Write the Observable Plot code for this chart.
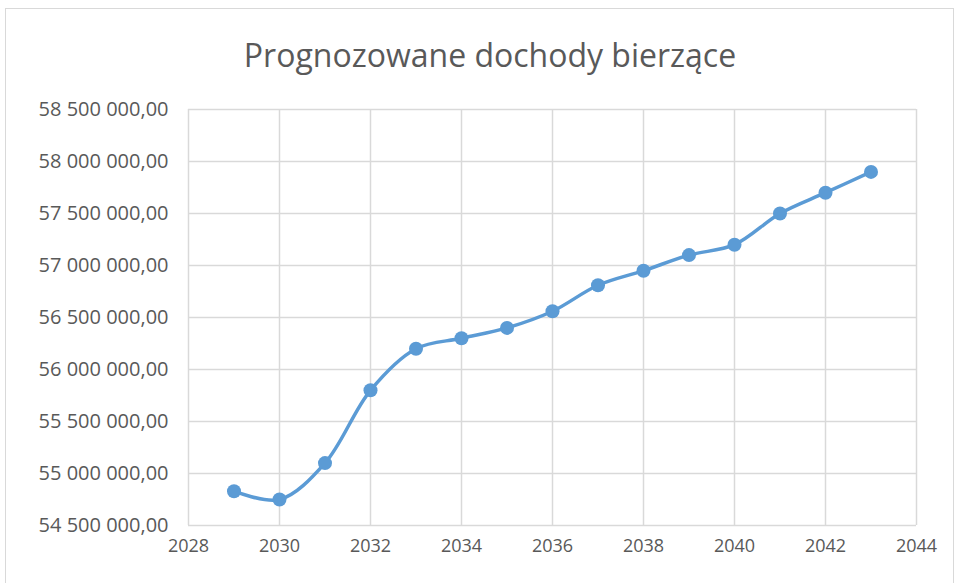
<!DOCTYPE html>
<html>
<head>
<meta charset="utf-8">
<script src="https://cdn.jsdelivr.net/npm/d3@7"></script>
<script src="https://cdn.jsdelivr.net/npm/@observablehq/plot@0.6"></script>
<style>
  html, body { margin: 0; padding: 0; background: #fff; }
  #wrap { position: relative; width: 960px; height: 583px; overflow: hidden; }
  #frame { position: absolute; left: 5px; top: 8px; width: 949px; height: 600px; border: 1.5px solid #d9d9d9; box-sizing: border-box; pointer-events: none; }
  #title { position: absolute; left: 0; width: 980px; top: 33px; text-align: center; font-family: "Open Sans", sans-serif; font-size: 32px; color: #595959; }
</style>
</head>
<body>
<div id="wrap">
  <div id="frame"></div>
  <div id="title">Prognozowane dochody bierzące</div>
</div>
<script>
const years = [2029, 2030, 2031, 2032, 2033, 2034, 2035, 2036, 2037, 2038, 2039, 2040, 2041, 2042, 2043];
const values = [54830000, 54750000, 55100000, 55800000, 56200000, 56300000, 56400000, 56560000, 56810000, 56950000, 57100000, 57200000, 57500000, 57700000, 57900000];
const xTicks = [2028, 2030, 2032, 2034, 2036, 2038, 2040, 2042, 2044];
const yTicks = [54500000, 55000000, 55500000, 56000000, 56500000, 57000000, 57500000, 58000000, 58500000];

const data = years.map((y, i) => ({year: y, value: values[i]}));

const fmtY = v => {
  const s = Math.round(v).toString().replace(/\B(?=(\d{3})+(?!\d))/g, " ");
  return s + ",00";
};

const chart = Plot.plot({
  width: 960,
  height: 583,
  marginLeft: 188,
  marginRight: 44,
  marginTop: 109,
  marginBottom: 58,
  style: { fontFamily: "'Open Sans', sans-serif", fontSize: "18px", color: "#595959", background: "transparent" },
  x: { domain: [2028, 2044], label: null },
  y: { domain: [54500000, 58500000], label: null },
  marks: [
    Plot.gridX(xTicks, { stroke: "#d9d9d9", strokeOpacity: 1, strokeWidth: 1.5 }),
    Plot.gridY(yTicks, { stroke: "#d9d9d9", strokeOpacity: 1, strokeWidth: 1.5 }),
    Plot.axisX({ ticks: xTicks, tickFormat: d => String(d), tickSize: 0, tickPadding: 14, label: null, fill: "#595959", fontSize: 18 }),
    Plot.axisY({ ticks: yTicks, tickFormat: fmtY, tickSize: 0, tickPadding: 20, label: null, fill: "#595959", fontSize: 20 }),
    Plot.line(data, { x: "year", y: "value", stroke: "#5b9bd5", strokeWidth: 3.5, curve: "catmull-rom" }),
    Plot.dot(data, { x: "year", y: "value", fill: "#5b9bd5", r: 7 })
  ]
});
document.getElementById("wrap").appendChild(chart);
chart.style.position = "absolute";
chart.style.left = "0";
chart.style.top = "0";
</script>
</body>
</html>
